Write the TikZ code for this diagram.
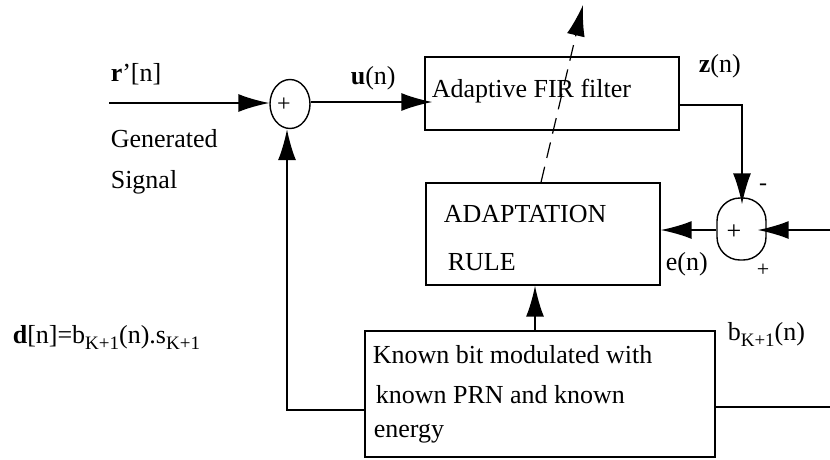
\documentclass[tikz,border=0pt]{standalone}
\usepackage{fontspec}
\setmainfont{Liberation Serif}
\usetikzlibrary{shapes.geometric,arrows.meta}
\newcommand{\subKp}{\raisebox{-6pt}{\fontsize{19}{20}\selectfont K+1}}
\begin{document}
\begin{tikzpicture}[x=1pt,y=-1pt,
  font=\fontsize{26}{30}\selectfont,
  line width=1.6pt,
  arr/.style={-{Latex[length=31pt,width=18pt]}},
  blk/.style={draw,rectangle,line width=1.4pt,inner sep=0pt},
  summer/.style={draw,line width=1.4pt,inner sep=0pt},
  lbl/.style={inner sep=0pt,anchor=base west},
  sgn/.style={inner sep=0pt}]
\useasboundingbox (0,0) rectangle (830,459);

% blocks
\node[blk,minimum width=254pt,minimum height=73pt] (filt) at (552,93.5) {};
\node[blk,minimum width=234pt,minimum height=102pt] (adapt) at (543,234) {};
\node[blk,minimum width=350pt,minimum height=126pt] (known) at (540,394) {};

% summing junctions
\node[summer,ellipse,minimum width=40pt,minimum height=49pt] (sumA) at (290,104) {};
\node[summer,rectangle,rounded corners=23pt,minimum width=49pt,minimum height=62pt] (sumB) at (741.5,229) {};
\node[sgn] at (284,105) {\fontsize{24}{24}\selectfont +};
\node[sgn] at (734,232) {\fontsize{26}{26}\selectfont +};

% free ends of connectors
\coordinate (in) at (109,103);
\coordinate (rin) at (830,230);
\coordinate (bout) at (830,407);
\coordinate (zcorner) at (742,105);
\coordinate (fbcorner) at (287,410);
\coordinate (tune) at (583,5);

% signal paths
\draw[arr] (in) -- (in -| sumA.west);
\draw[arr] (sumA.east |- 0,102) -- ([xshift=8pt]filt.west |- 0,102);
\draw[arr] (zcorner -| filt.east) -- (zcorner) -- ([yshift=-7pt]zcorner |- sumB.north);
\draw[arr] (rin) -- ([xshift=-9pt]rin -| sumB.east);
\draw[arr] (sumB.west |- rin) -- (rin -| adapt.east);
\draw[arr] (known.north -| 535,0) -- (adapt.south -| 535,0);
\draw[arr] (fbcorner -| known.west) -- (fbcorner) -- (fbcorner |- sumA.south);
\draw (bout -| known.east) -- (bout);
\draw[arr,line width=1.2pt,dash pattern=on 16pt off 9pt] (adapt.north -| 541,0) -- (tune);

% labels
\node[lbl] at (110,81) {\textbf{r}'[n]};
\node[lbl] at (110,147) {Generated};
\node[lbl] at (110,188) {Signal};
\node[lbl] at (350,84) {\textbf{u}(n)};
\node[lbl] at (431,97) {Adaptive FIR filter};
\node[lbl] at (698,72) {\textbf{z}(n)};
\node[lbl] at (443,222) {ADAPTATION};
\node[lbl] at (447,270) {RULE};
\node[lbl] at (665,270) {e(n)};
\node[sgn] at (763,187) {\fontsize{24}{24}\selectfont -};
\node[sgn] at (763,270) {\fontsize{22}{22}\selectfont +};
\node[lbl] at (372,363) {Known bit modulated with};
\node[lbl] at (375,403) {known PRN and known};
\node[lbl] at (373,437) {energy};
\node[lbl] at (727,340) {b\subKp(n)};
\node[lbl] at (12,343) {\textbf{d}[n]=b\subKp(n).s\subKp};
\end{tikzpicture}
\end{document}
